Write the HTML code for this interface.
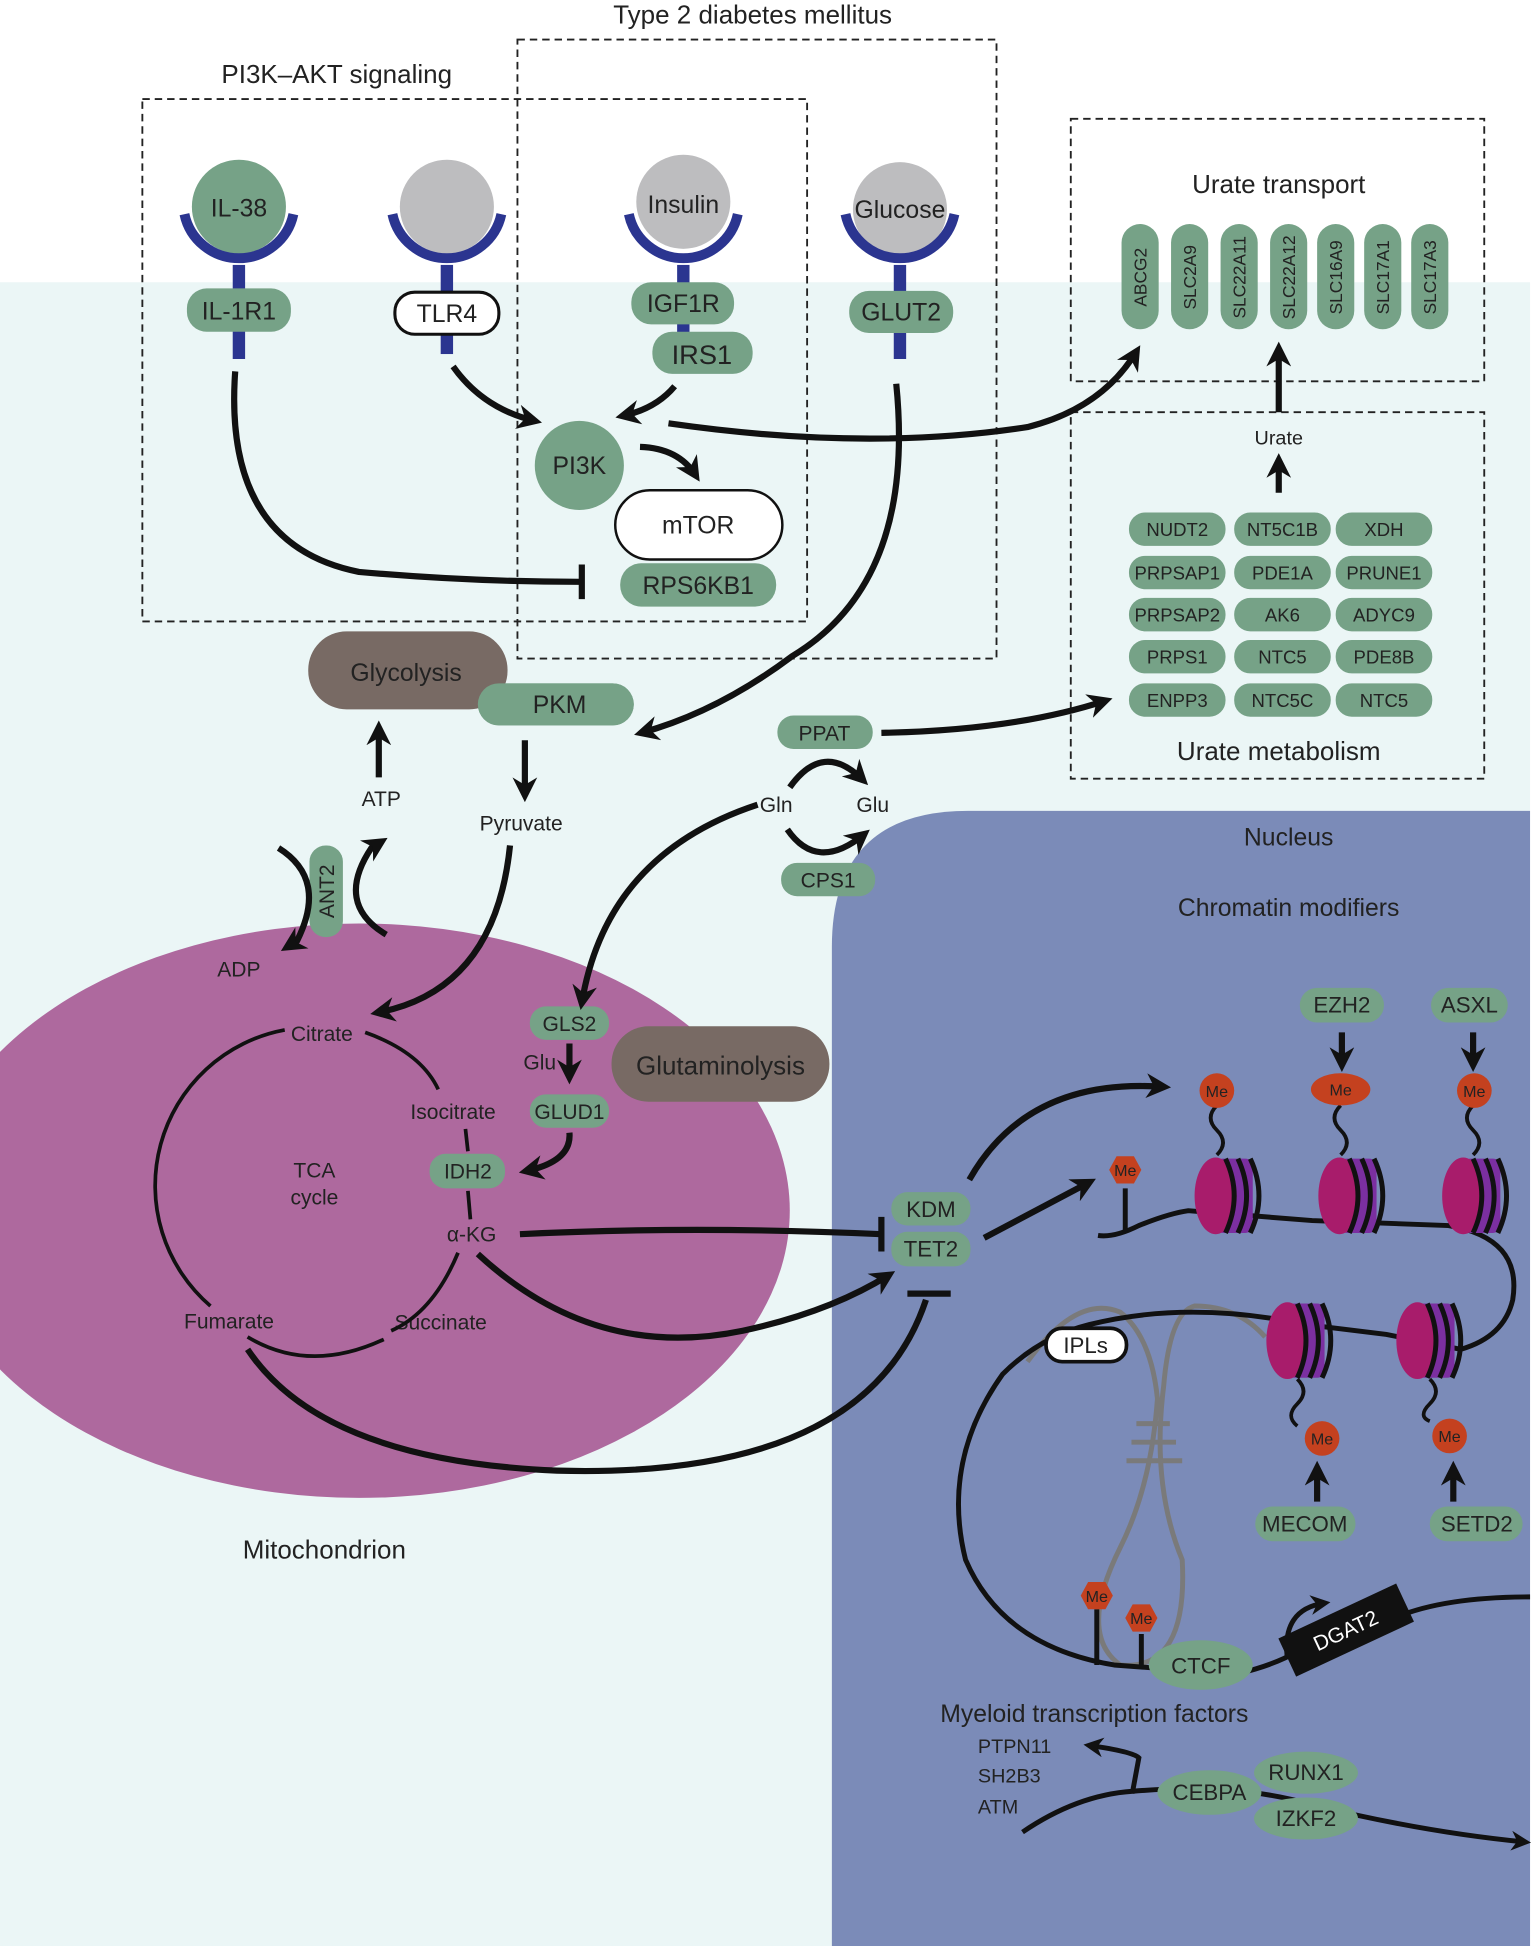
<!DOCTYPE html>
<html><head><meta charset="utf-8"><style>
html,body{margin:0;padding:0;background:#fff}
svg{display:block}
text{font-family:"Liberation Sans",sans-serif;fill:#222}
</style></head><body>
<svg width="1535" height="1946" viewBox="0 0 1240 1572" preserveAspectRatio="none" xmlns="http://www.w3.org/2000/svg">
<defs>
<marker id="a" viewBox="0 0 10 10" refX="7" refY="5" markerWidth="4" markerHeight="4" orient="auto-start-reverse"><path d="M0,0 L10,5 L0,10 L3,5 z" fill="#111"/></marker>
<g id="nuc">
<rect x="0" y="-30" width="30" height="60" rx="6" fill="#7b2fa0"/>
<ellipse cx="0" cy="0" rx="17" ry="31" fill="#a81c6b"/>
<path d="M8,-30 q14,30 0,60 M18,-30 q14,30 0,60 M28,-30 q14,30 0,60" stroke="#111" stroke-width="4" fill="none"/>
</g>
</defs>
<rect x="0" y="228" width="1236" height="1344" fill="#ebf6f6"/>
<ellipse cx="290" cy="978" rx="348" ry="232" fill="#ae699e"/>
<path d="M672,1572 L672,765 Q672,655 782,655 L1236,655 L1236,1572 Z" fill="#7b8bb8"/>

<g fill="none" stroke="#222" stroke-width="1.5" stroke-dasharray="6,4">
<rect x="115" y="80" width="537" height="422"/>
<rect x="418" y="32" width="387" height="500"/>
<rect x="865" y="96" width="334" height="212"/>
<rect x="865" y="333" width="334" height="296"/>
</g>
<g font-size="21" text-anchor="middle">
<text x="272" y="67">PI3K–AKT signaling</text>
<text x="608" y="19">Type 2 diabetes mellitus</text>
<text x="1033" y="156">Urate transport</text>
<text x="1033" y="614">Urate metabolism</text>
</g>

<g>
<circle cx="193" cy="167" r="38" fill="#76a287"/>
<circle cx="361" cy="167" r="38" fill="#bdbdbf"/>
<circle cx="552" cy="163" r="38" fill="#bdbdbf"/>
<circle cx="727" cy="169" r="38" fill="#bdbdbf"/>
<g fill="none" stroke="#2b3590" stroke-width="8">
<path d="M149,173 A45,45 0 0 0 237,173"/><path d="M317,173 A45,45 0 0 0 405,173"/>
<path d="M508,173 A45,45 0 0 0 596,173"/><path d="M683,173 A45,45 0 0 0 771,173"/>
</g>
<g fill="#2b3590"><rect x="188" y="214" width="10" height="76"/><rect x="356" y="214" width="10" height="72"/><rect x="547" y="214" width="10" height="60"/><rect x="722" y="214" width="10" height="76"/></g>
</g>
<g font-size="20" text-anchor="middle">
<text x="193" y="175">IL-38</text><text x="552" y="172">Insulin</text><text x="727" y="176">Glucose</text>
</g>
<g fill="#76a287">
<rect x="151" y="233" width="84" height="35" rx="16"/>
<rect x="510" y="228" width="83" height="34" rx="16"/>
<rect x="527" y="268" width="81" height="34" rx="16"/>
<rect x="686" y="235" width="84" height="34" rx="16"/>
<circle cx="468" cy="376" r="36"/>
<rect x="501" y="455" width="126" height="35" rx="17"/>
<rect x="386" y="552" width="126" height="34" rx="17"/>
<rect x="628" y="578" width="77" height="27" rx="13"/>
<rect x="631" y="697" width="76" height="27" rx="13"/>
<rect x="250" y="683" width="27" height="74" rx="13"/>
<rect x="428" y="813" width="64" height="27" rx="13"/>
<rect x="428" y="884" width="64" height="27" rx="13"/>
<rect x="347" y="932" width="61" height="28" rx="13"/>
</g>
<rect x="319" y="236" width="84" height="34" rx="16" fill="#fff" stroke="#111" stroke-width="2.5"/>
<rect x="497" y="396" width="135" height="56" rx="28" fill="#fff" stroke="#111" stroke-width="2"/>
<rect x="249" y="510" width="161" height="63" rx="31" fill="#786a64"/>
<rect x="386" y="552" width="126" height="34" rx="17" fill="#76a287"/>
<rect x="494" y="829" width="176" height="61" rx="30" fill="#786a64"/>
<g font-size="20" text-anchor="middle">
<text x="193" y="258">IL-1R1</text><text x="361" y="260">TLR4</text><text x="552" y="252">IGF1R</text>
<text x="567" y="294" font-size="22">IRS1</text><text x="728" y="259">GLUT2</text>
<text x="468" y="383">PI3K</text><text x="564" y="431">mTOR</text><text x="564" y="480">RPS6KB1</text>
<text x="328" y="550">Glycolysis</text><text x="452" y="576">PKM</text>
<text x="582" y="868" font-size="21">Glutaminolysis</text>
</g>
<g font-size="17" text-anchor="middle">
<text x="666" y="598">PPAT</text><text x="669" y="717">CPS1</text>
<text x="627" y="656">Gln</text><text x="705" y="656">Glu</text>
<text x="308" y="651">ATP</text><text x="421" y="671">Pyruvate</text><text x="193" y="789">ADP</text>
<text x="460" y="833">GLS2</text><text x="460" y="904">GLUD1</text><text x="436" y="864">Glu</text>
<text x="378" y="952">IDH2</text>
<text x="260" y="841">Citrate</text><text x="366" y="904">Isocitrate</text><text x="381" y="1003">α-KG</text>
<text x="185" y="1073">Fumarate</text><text x="356" y="1074">Succinate</text>
<text x="254" y="951">TCA</text><text x="254" y="973">cycle</text>
<text transform="translate(270,720) rotate(-90)">ANT2</text>
</g>
<text x="262" y="1259" font-size="21" text-anchor="middle">Mitochondrion</text>

<g fill="none" stroke="#111" stroke-width="3">
<path d="M230,832 A128,128 0 0 0 170,1055"/>
<path d="M295,834 Q340,850 354,880"/>
<path d="M376,912 L378,930 M378,962 L380,985"/>
<path d="M370,1012 Q350,1060 316,1075"/>
<path d="M200,1080 Q250,1110 310,1082"/>
</g>

<g fill="none" stroke="#111" stroke-width="5" marker-end="url(#a)">
<path d="M366,296 Q390,330 432,340"/>
<path d="M545,312 Q530,330 503,336"/>
<path d="M517,361 Q548,362 562,384"/>
<path d="M540,342 Q700,365 830,345 Q890,330 918,284"/>
<path d="M724,310 Q740,470 640,530 Q580,575 518,592"/>
<path d="M306,628 L306,588"/>
<path d="M424,598 L424,642"/>
<path d="M412,683 Q400,800 305,818"/>
<path d="M612,650 Q490,690 470,810"/>
<path d="M712,592 Q820,590 893,566"/>
<path d="M1033,398 L1033,372"/>
<path d="M1033,333 L1033,282"/>
<path d="M638,636 Q665,598 697,630"/>
<path d="M636,670 Q660,705 698,674"/>
<path d="M225,685 Q265,710 240,760 L232,765"/>
<path d="M312,755 Q270,730 300,685 L308,680"/>
<path d="M460,843 L460,870"/>
<path d="M460,915 Q462,938 425,946"/>
<path d="M386,1013 Q480,1100 600,1075 Q670,1060 718,1030"/>
<path d="M783,953 Q830,870 940,878"/>
<path d="M795,1000 L880,955"/>
<path d="M1084,834 L1084,860"/>
<path d="M1190,834 L1190,860"/>
<path d="M1064,1213 L1064,1186"/>
<path d="M1174,1213 L1174,1186"/>
</g>
<g fill="none" stroke="#111" stroke-width="5">
<path d="M190,300 Q180,440 290,462 Q380,470 468,470"/>
<path d="M470,456 L470,484"/>
<path d="M420,997 Q560,990 712,997"/>
<path d="M712,983 L712,1011"/>
<path d="M200,1090 Q260,1180 450,1188 Q700,1195 748,1050"/>
<path d="M733,1045 L768,1045"/>
</g>

<g fill="#76a287">
<rect x="906" y="181" width="30" height="85" rx="15"/><rect x="946" y="181" width="30" height="85" rx="15"/>
<rect x="986" y="181" width="30" height="85" rx="15"/><rect x="1026" y="181" width="30" height="85" rx="15"/>
<rect x="1064" y="181" width="30" height="85" rx="15"/><rect x="1102" y="181" width="30" height="85" rx="15"/>
<rect x="1140" y="181" width="30" height="85" rx="15"/>
</g>
<g font-size="14" text-anchor="middle">
<text transform="translate(926,224) rotate(-90)">ABCG2</text><text transform="translate(966,224) rotate(-90)">SLC2A9</text>
<text transform="translate(1006,224) rotate(-90)">SLC22A11</text><text transform="translate(1046,224) rotate(-90)">SLC22A12</text>
<text transform="translate(1084,224) rotate(-90)">SLC16A9</text><text transform="translate(1122,224) rotate(-90)">SLC17A1</text>
<text transform="translate(1160,224) rotate(-90)">SLC17A3</text>
</g>
<text x="1033" y="359" font-size="16" text-anchor="middle">Urate</text>
<g fill="#76a287">
<rect x="912" y="414" width="78" height="27" rx="13"/><rect x="997" y="414" width="78" height="27" rx="13"/><rect x="1079" y="414" width="78" height="27" rx="13"/>
<rect x="912" y="449" width="78" height="27" rx="13"/><rect x="997" y="449" width="78" height="27" rx="13"/><rect x="1079" y="449" width="78" height="27" rx="13"/>
<rect x="912" y="483" width="78" height="27" rx="13"/><rect x="997" y="483" width="78" height="27" rx="13"/><rect x="1079" y="483" width="78" height="27" rx="13"/>
<rect x="912" y="517" width="78" height="27" rx="13"/><rect x="997" y="517" width="78" height="27" rx="13"/><rect x="1079" y="517" width="78" height="27" rx="13"/>
<rect x="912" y="552" width="78" height="27" rx="13"/><rect x="997" y="552" width="78" height="27" rx="13"/><rect x="1079" y="552" width="78" height="27" rx="13"/>
</g>
<g font-size="15" text-anchor="middle">
<text x="951" y="433">NUDT2</text><text x="1036" y="433">NT5C1B</text><text x="1118" y="433">XDH</text>
<text x="951" y="468">PRPSAP1</text><text x="1036" y="468">PDE1A</text><text x="1118" y="468">PRUNE1</text>
<text x="951" y="502">PRPSAP2</text><text x="1036" y="502">AK6</text><text x="1118" y="502">ADYC9</text>
<text x="951" y="536">PRPS1</text><text x="1036" y="536">NTC5</text><text x="1118" y="536">PDE8B</text>
<text x="951" y="571">ENPP3</text><text x="1036" y="571">NTC5C</text><text x="1118" y="571">NTC5</text>
</g>

<g font-size="20" text-anchor="middle">
<text x="1041" y="683">Nucleus</text><text x="1041" y="740">Chromatin modifiers</text>
<text x="884" y="1391">Myeloid transcription factors</text>
</g>
<g fill="none" stroke="#7a7a7a" stroke-width="4">
<path d="M830,1100 Q870,1045 905,1060 Q930,1080 935,1130 Q930,1200 905,1250 Q870,1320 905,1345 Q960,1350 955,1260 Q930,1200 940,1120 Q945,1060 965,1055 Q1000,1055 1022,1080"/>
<path d="M918,1150 L945,1150 M914,1165 L950,1165 M910,1180 L955,1180"/>
</g>
<g fill="none" stroke="#111" stroke-width="4">
<path d="M887,998 Q900,1000 920,990 Q945,980 960,978 L1060,986 L1170,990 Q1230,1000 1222,1050 Q1215,1080 1180,1090 L1120,1078 L1055,1070 Q960,1050 880,1070 Q840,1080 810,1110 Q760,1180 780,1260 Q810,1330 900,1345 L940,1348 M1000,1352 Q1030,1345 1050,1333 M1120,1310 Q1160,1290 1236,1290"/>
<path d="M909,960 L909,995"/>
<path d="M886,1300 L886,1345 M922,1320 L922,1345"/>
<path d="M826,1480 Q870,1450 915,1447 L920,1420 Q915,1415 880,1410" marker-end="url(#a)"/>
<path d="M915,1447 Q1000,1440 1060,1458 Q1150,1480 1232,1488" marker-end="url(#a)"/>
<path d="M1040,1340 Q1035,1300 1070,1295" marker-end="url(#a)"/>
</g>
<use href="#nuc" x="982" y="966"/><use href="#nuc" x="1082" y="966"/><use href="#nuc" x="1182" y="966"/>
<use href="#nuc" x="1040" y="1083"/><use href="#nuc" x="1145" y="1083"/>
<g fill="none" stroke="#111" stroke-width="3">
<path d="M983,893 q-10,10 0,20 q10,10 0,20"/><path d="M1083,893 q-10,10 0,20 q10,10 0,20"/><path d="M1190,893 q-10,10 0,20 q10,10 0,20"/>
<path d="M1048,1114 q10,10 0,20 q-10,10 0,18"/><path d="M1155,1114 q10,10 0,20 q-10,10 0,14"/>
</g>
<g fill="#c4411f">
<circle cx="983" cy="881" r="14"/><ellipse cx="1083" cy="880" rx="24" ry="13"/><circle cx="1191" cy="881" r="14"/>
<circle cx="1068" cy="1162" r="14"/><circle cx="1171" cy="1160" r="14"/>
<polygon points="896,945 902,934 916,934 922,945 916,956 902,956"/>
<polygon points="873,1289 879,1278 893,1278 899,1289 893,1300 879,1300"/>
<polygon points="909,1307 915,1296 929,1296 935,1307 929,1318 915,1318"/>
</g>
<g font-size="13" text-anchor="middle">
<text x="983" y="886">Me</text><text x="1083" y="885">Me</text><text x="1191" y="886">Me</text>
<text x="1068" y="1167">Me</text><text x="1171" y="1165">Me</text>
<text x="909" y="950">Me</text><text x="886" y="1294">Me</text><text x="922" y="1312">Me</text>
</g>
<rect x="1035" y="1300" width="105" height="34" fill="#111" transform="rotate(-25 1087 1317)"/>
<text x="1087" y="1323" font-size="17" style="fill:#fff" text-anchor="middle" transform="rotate(-25 1087 1317)">DGAT2</text>
<g fill="#76a287">
<rect x="720" y="963" width="64" height="27" rx="13"/><rect x="720" y="995" width="64" height="28" rx="13"/>
<rect x="1050" y="798" width="68" height="28" rx="14"/><rect x="1156" y="798" width="62" height="28" rx="14"/>
<rect x="1014" y="1217" width="81" height="28" rx="14"/><rect x="1155" y="1217" width="75" height="28" rx="14"/>
<ellipse cx="970" cy="1345" rx="42" ry="20"/>
<ellipse cx="977" cy="1448" rx="42" ry="18"/><ellipse cx="1055" cy="1432" rx="42" ry="17"/><ellipse cx="1055" cy="1469" rx="42" ry="17"/>
</g>
<rect x="845" y="1073" width="65" height="27" rx="13" fill="#fff" stroke="#111" stroke-width="3"/>
<g font-size="18" text-anchor="middle">
<text x="752" y="983">KDM</text><text x="752" y="1015">TET2</text>
<text x="1084" y="818">EZH2</text><text x="1187" y="818">ASXL</text>
<text x="1054" y="1237">MECOM</text><text x="1193" y="1237">SETD2</text>
<text x="970" y="1352">CTCF</text><text x="977" y="1454">CEBPA</text><text x="1055" y="1438">RUNX1</text><text x="1055" y="1475">IZKF2</text>
<text x="877" y="1093">IPLs</text>
</g>
<g font-size="16" style="fill:#4a4a5a">
<text x="790" y="1416">PTPN11</text><text x="790" y="1440">SH2B3</text><text x="790" y="1465">ATM</text>
</g>
</svg>
</body></html>
